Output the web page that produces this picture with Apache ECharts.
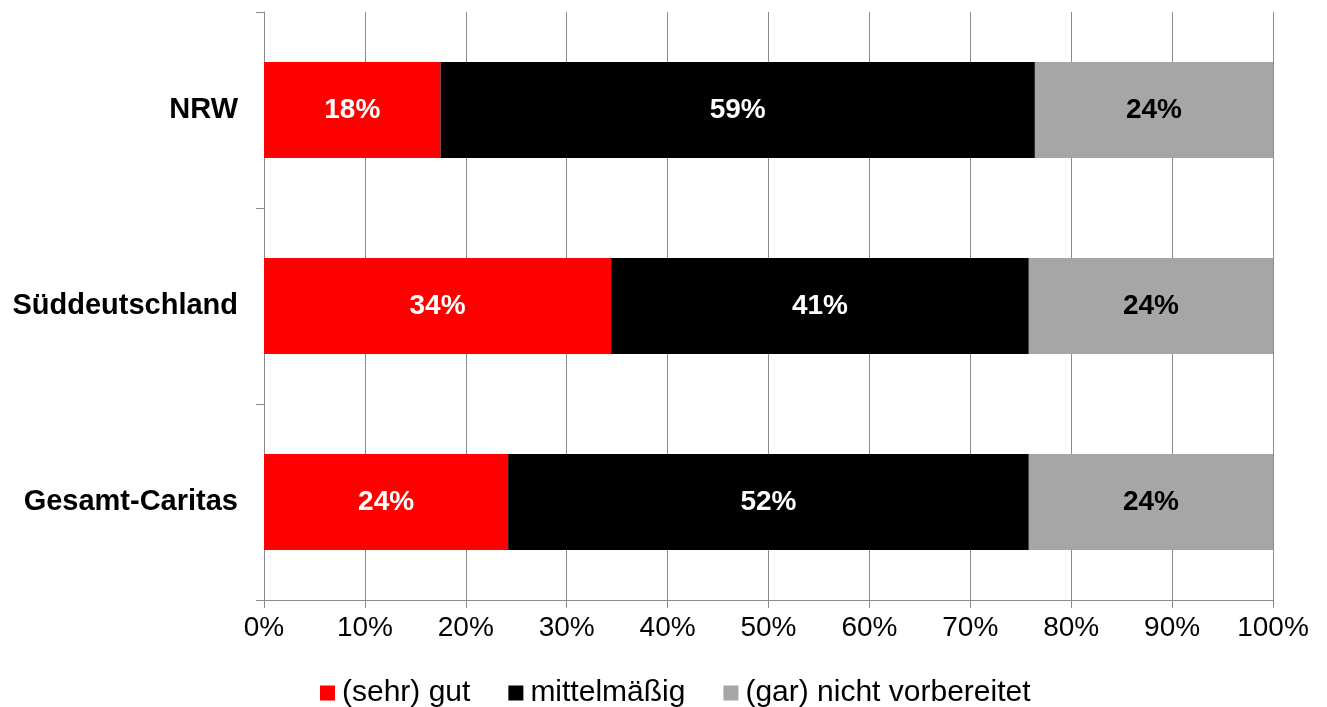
<!DOCTYPE html>
<html>
<head>
<meta charset="utf-8">
<script src="https://cdn.jsdelivr.net/npm/echarts@6/dist/echarts.min.js"></script>
<style>html,body{margin:0;padding:0;background:#fff}#c{width:1327px;height:707px}</style>
</head>
<body>
<div id="c"></div>
<script>
const categories = ['NRW', 'Süddeutschland', 'Gesamt-Caritas'];
const seriesNames = ['(sehr) gut', 'mittelmäßig', '(gar) nicht vorbereitet'];
const gut = [17.5, 34.4, 24.2];
const mittel = [58.9, 41.4, 51.6];
const nicht = [23.6, 24.2, 24.2];
const colors = ['#ff0000', '#000000', '#a6a6a6'];
const labelColors = ['#ffffff', '#ffffff', '#000000'];

const font = '"Liberation Sans", Arial, sans-serif';
const chart = echarts.init(document.getElementById('c'), null, {renderer: 'canvas'});
const mk = (name, data, i) => ({
  name, type: 'bar', stack: 'total', data,
  barWidth: '49%',
  itemStyle: {color: colors[i]},
  label: {
    show: true, position: 'inside',
    formatter: p => Math.round(p.value) + '%',
    color: labelColors[i], fontFamily: font, fontWeight: 'bold', fontSize: 28
  },
  emphasis: {disabled: true}
});
chart.setOption({
  animation: false,
  textStyle: {fontFamily: font},
  grid: {left: 264, right: 54, top: 12, bottom: 107, containLabel: false},
  legend: {
    top: 673, left: 315,
    itemWidth: 15, itemHeight: 15, itemGap: 38,
    icon: 'rect',
    textStyle: {fontFamily: font, fontSize: 30, color: '#000', padding: [0, 0, 0, 2]},
    data: seriesNames
  },
  xAxis: {
    type: 'value', min: 0, max: 100, interval: 10,
    axisLine: {show: true, lineStyle: {color: '#8c8c8c', width: 1}},
    axisTick: {show: true, length: 8, lineStyle: {color: '#8c8c8c'}},
    splitLine: {show: true, lineStyle: {color: '#8c8c8c', width: 1}},
    axisLabel: {formatter: '{value}%', fontSize: 28, color: '#000', fontFamily: font, margin: 14}
  },
  yAxis: {
    type: 'category', data: categories, inverse: true,
    axisLine: {show: true, lineStyle: {color: '#8c8c8c', width: 1}},
    axisTick: {show: true, length: 8, lineStyle: {color: '#8c8c8c'}},
    axisLabel: {fontSize: 29, fontWeight: 'bold', color: '#000', fontFamily: font, margin: 26}
  },
  series: [mk(seriesNames[0], gut, 0), mk(seriesNames[1], mittel, 1), mk(seriesNames[2], nicht, 2)]
});
</script>
</body>
</html>
